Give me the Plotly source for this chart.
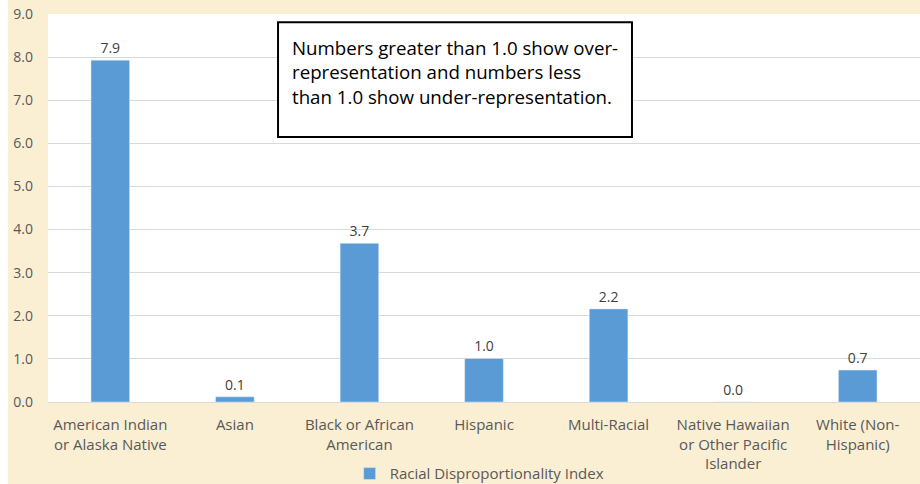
import plotly.graph_objects as go

categories = [
    "American Indian<br>or Alaska Native",
    "Asian",
    "Black or African<br>American",
    "Hispanic",
    "Multi-Racial",
    "Native Hawaiian<br>or Other Pacific<br>Islander",
    "White (Non-<br>Hispanic)",
]
index_values = [7.93, 0.12, 3.68, 1.01, 2.16, 0.0, 0.74]
y_ticks = [0, 1, 2, 3, 4, 5, 6, 7, 8, 9]
series_name = "Racial Disproportionality Index"
note = ("Numbers greater than 1.0 show over-<br>"
        "representation and numbers less<br>"
        "than 1.0 show under-representation.")

font_family = "Open Sans, Liberation Sans, sans-serif"

fig = go.Figure(go.Bar(
    x=categories,
    y=index_values,
    name=series_name,
    marker_color="#5B9BD5",
    text=[f"{v:.1f}" for v in index_values],
    textposition="outside",
    textfont=dict(size=14, color="#404040"),
    cliponaxis=False,
    showlegend=True,
))

fig.update_layout(
    width=912, height=484,
    margin=dict(l=40, r=0, t=14, b=82),
    paper_bgcolor="#FAEED3",
    plot_bgcolor="white",
    font=dict(family=font_family, color="#595959", size=14),
    bargap=0.69,
    legend=dict(orientation="h", x=0.495, xanchor="center",
                yref="container", y=0.021, yanchor="middle", itemwidth=30,
                font=dict(size=15, color="#595959"), bgcolor="rgba(0,0,0,0)"),
    xaxis=dict(showgrid=False, ticks="", tickfont=dict(size=15, color="#595959"),
               showline=False, automargin=False, ticklabelstandoff=12),
    yaxis=dict(range=[0, 9], tickvals=y_ticks, tickformat=".1f",
               gridcolor="#D9D9D9", gridwidth=1, zeroline=True,
               zerolinecolor="#D9D9D9", zerolinewidth=1, automargin=False,
               tickfont=dict(size=14, color="#595959"), ticklabelstandoff=14),
)

fig.add_shape(type="rect", xref="paper", yref="paper",
              x0=0.2638, x1=0.6697, y0=0.683, y1=0.979,
              line=dict(color="black", width=2), fillcolor="white", layer="above")
fig.add_annotation(xref="paper", yref="paper", x=0.278, y=0.952,
                   xanchor="left", yanchor="top", align="left",
                   text=note, showarrow=False,
                   font=dict(size=18.7, color="black", family=font_family))

# page: no top margin, thin grey rule on the left edge of the chart
page_js = ("document.body.style.margin='0 0 0 8px';"
           "document.querySelector('.plotly-graph-div').style.boxShadow='-1px 0 0 #D4D4D4';")
fig.write_html("out.html", post_script=page_js)
